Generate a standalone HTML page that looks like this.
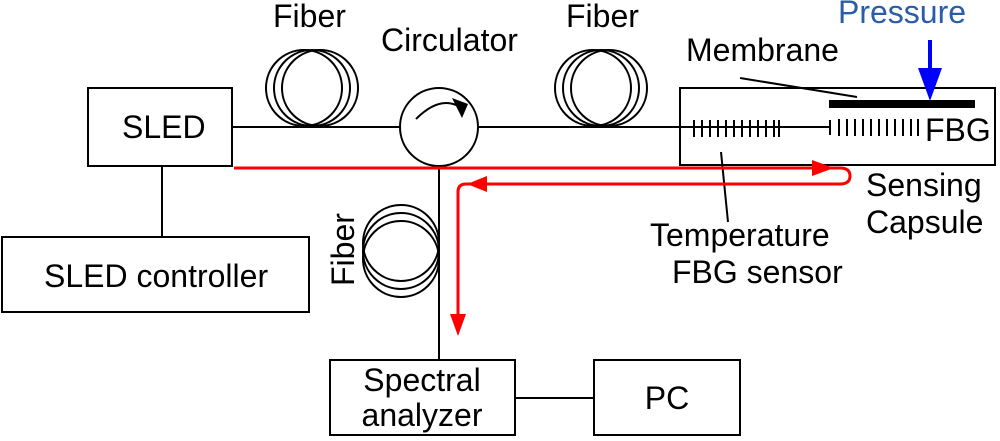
<!DOCTYPE html>
<html><head><meta charset="utf-8"><style>
html,body{margin:0;padding:0;background:#fff;}
svg{display:block;}
text{font-family:"Liberation Sans",Arial,sans-serif;font-size:32px;fill:#000;}
</style></head><body>
<svg width="1000" height="441" viewBox="0 0 1000 441" xmlns="http://www.w3.org/2000/svg">
<g fill="none" stroke="#000" stroke-width="2">
<rect x="88" y="88" width="144" height="78"/>
<rect x="2" y="237" width="307" height="75"/>
<line x1="162" y1="166" x2="162" y2="237"/>
<rect x="330" y="360" width="185" height="75"/>
<rect x="594" y="360" width="146" height="75"/>
<line x1="515" y1="398" x2="594" y2="398"/>
<rect x="680" y="88" width="315" height="77"/>
<line x1="232" y1="127" x2="400" y2="127"/>
<line x1="478" y1="127" x2="830" y2="127"/>
<line x1="830" y1="120" x2="830" y2="135"/>
<line x1="439" y1="166" x2="439" y2="360"/>
<circle cx="439" cy="127" r="39"/>
<circle cx="304" cy="88" r="38"/><circle cx="312" cy="88" r="38"/><circle cx="320" cy="88" r="38"/>
<circle cx="593" cy="88" r="38"/><circle cx="601" cy="88" r="38"/><circle cx="609" cy="88" r="38"/>
<circle cx="401" cy="243" r="38"/><circle cx="401" cy="251" r="38"/><circle cx="401" cy="259" r="38"/>
<path d="M416 119 Q440 95 460 107"/>
<line x1="740" y1="78" x2="857" y2="97"/>
<line x1="721" y1="152" x2="728" y2="222"/>
</g>
<polygon points="452,98 468,104 462,118" fill="#000"/>
<g stroke="#000" stroke-width="2">
<path d="M694 120v17M702 120v17M710 120v17M718 120v17M726 120v17M734 120v17M742 120v17M750 120v17M758 120v17M766 120v17M774 120v17M779 120v17"/>
<path d="M839 119v17M847 119v17M855 119v17M863 119v17M871 119v17M879 119v17M887 119v17M895 119v17M903 119v17M911 119v17M918 119v17"/>
</g>
<rect x="829" y="100" width="146" height="8" fill="#000"/>
<line x1="930" y1="40" x2="930" y2="80" stroke="#0000ff" stroke-width="4"/>
<polygon points="918,68 942,68 930,101" fill="#0000ff"/>
<g fill="none" stroke="#ff0000" stroke-width="3">
<path d="M234 168 H840 Q850 168 850 176 Q850 184 840 184 H466 Q458 184 458 192 V320"/>
</g>
<polygon points="812,160 834,168 812,176" fill="#ff0000"/>
<polygon points="487,176 467,184 487,192" fill="#ff0000"/>
<polygon points="450,314 466,314 458,336" fill="#ff0000"/>
<text x="122" y="138">SLED</text>
<text x="44" y="287">SLED controller</text>
<text x="273" y="27">Fiber</text>
<text x="381" y="51">Circulator</text>
<text x="566" y="27">Fiber</text>
<text x="838" y="23" style="fill:#2a5caa">Pressure</text>
<text x="686" y="61">Membrane</text>
<text x="925" y="141">FBG</text>
<text x="866" y="196">Sensing</text>
<text x="866" y="233">Capsule</text>
<text x="650" y="246">Temperature</text>
<text x="672" y="283">FBG sensor</text>
<text x="422" y="391" text-anchor="middle">Spectral</text>
<text x="422" y="426" text-anchor="middle">analyzer</text>
<text x="667" y="409" text-anchor="middle">PC</text>
<text transform="translate(354,286) rotate(-90)">Fiber</text>
</svg>
</body></html>
